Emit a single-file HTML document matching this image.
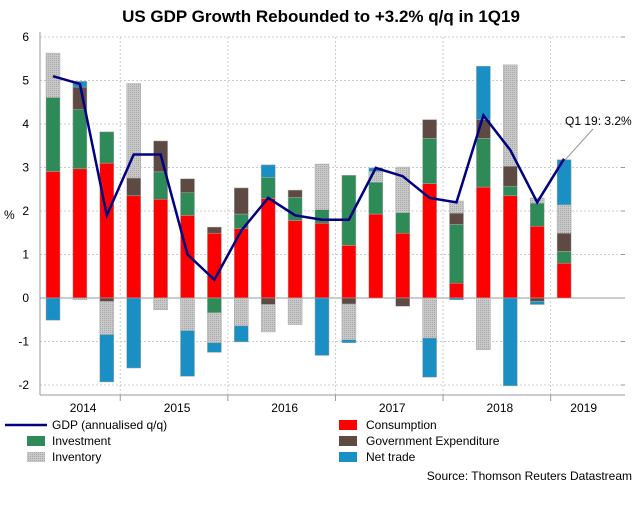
<!DOCTYPE html>
<html><head><meta charset="utf-8">
<style>
body{margin:0;background:#fff;font-family:"Liberation Sans",sans-serif;}
svg text{font-family:"Liberation Sans",sans-serif;}
</style></head>
<body>
<svg id="chart" width="642" height="509" viewBox="0 0 642 509" xmlns="http://www.w3.org/2000/svg">
<defs>
<pattern id="dots" width="2" height="2" patternUnits="userSpaceOnUse"><rect width="2" height="2" fill="#c8c8c8"/><rect width="1" height="1" fill="#a8a8a8"/></pattern>
</defs>
<text x="321" y="22" text-anchor="middle" font-size="17" font-weight="bold">US GDP Growth Rebounded to +3.2% q/q in 1Q19</text>
<g id="grid"></g>
<g id="bars"></g>
<g id="line"></g>
<g id="axes"></g>
<text x="565" y="125" font-size="12">Q1 19: 3.2%</text>
<line x1="593" y1="129" x2="565" y2="160" stroke="#999" stroke-width="1"/>
<text x="4" y="219" font-size="12">%</text>
<g font-size="12">
<line x1="5" y1="425" x2="47" y2="425" stroke="#000080" stroke-width="2.5"/>
<text x="52" y="429">GDP (annualised q/q)</text>
<rect x="27" y="436" width="18" height="10" fill="#2e8b57"/>
<text x="52" y="445">Investment</text>
<rect x="27" y="452" width="18" height="10" fill="url(#dots)"/>
<text x="52" y="461">Inventory</text>
<rect x="339" y="420" width="18" height="10" fill="#ff0000"/>
<text x="366" y="429">Consumption</text>
<rect x="339" y="436" width="18" height="10" fill="#5e4a43"/>
<text x="366" y="445">Government Expenditure</text>
<rect x="339" y="452" width="18" height="10" fill="#1a8fc4"/>
<text x="366" y="461">Net trade</text>
</g>
<text x="632" y="480" text-anchor="end" font-size="12">Source: Thomson Reuters Datastream</text>
</svg>
<script>
const quarters=["Q2 14","Q3 14","Q4 14","Q1 15","Q2 15","Q3 15","Q4 15","Q1 16","Q2 16","Q3 16","Q4 16","Q1 17","Q2 17","Q3 17","Q4 17","Q1 18","Q2 18","Q3 18","Q4 18","Q1 19"];
const consumption=[2.91,2.97,3.10,2.35,2.27,1.90,1.49,1.60,2.29,1.78,1.72,1.21,1.93,1.49,2.63,0.34,2.55,2.35,1.65,0.80];
const investment=[1.70,1.36,0.72,0,0.63,0.52,-0.34,0.33,0.48,0.53,0.31,1.61,0.73,0.47,1.04,1.35,1.12,0.22,0.53,0.27];
const government=[0,0.52,-0.08,0.41,0.71,0.32,0.14,0.60,-0.15,0.17,0,-0.14,0,-0.19,0.43,0.26,0.43,0.46,-0.08,0.42];
const inventory=[1.02,-0.04,-0.76,2.17,-0.27,-0.75,-0.69,-0.64,-0.63,-0.61,1.05,-0.82,0.25,1.05,-0.92,0.28,-1.19,2.33,0.12,0.65];
const netTrade=[-0.51,0.13,-1.09,-1.61,0,-1.05,-0.22,-0.37,0.29,0,-1.32,-0.07,0.08,0,-0.9,-0.04,1.23,-2.02,-0.07,1.04];
const gdp=[5.1,4.92,1.9,3.3,3.3,1.0,0.42,1.55,2.3,1.9,1.8,1.8,2.99,2.8,2.3,2.2,4.2,3.4,2.2,3.2];
const yTicks=[-2,-1,0,1,2,3,4,5,6];
const years=["2014","2015","2016","2017","2018","2019"];

const NS="http://www.w3.org/2000/svg";
const X0=53,STEP=26.9,BW=14,ZERO=298,UNIT=43.5,LEFT=40,RIGHT=625,BOTTOM=395;
const xs=i=>X0+i*STEP;
const ys=v=>ZERO-v*UNIT;
function mk(tag,attrs,parent){const e=document.createElementNS(NS,tag);for(const k in attrs)e.setAttribute(k,attrs[k]);parent.appendChild(e);return e;}
const grid=document.getElementById('grid'),bars=document.getElementById('bars'),line=document.getElementById('line'),axes=document.getElementById('axes');

yTicks.forEach(t=>{
  const g=mk('line',{x1:LEFT,x2:RIGHT,y1:ys(t),y2:ys(t),stroke:t===0?'#999':'#ccc','stroke-dasharray':t===0?'':'2,2'},grid);
  
  
  const lb=mk('text',{x:29,y:ys(t)+4,'text-anchor':'end','font-size':12},axes);
  lb.textContent=t;
  
  
  mk('line',{x1:RIGHT-4,x2:RIGHT,y1:ys(t),y2:ys(t),stroke:'#999'},axes);
});
years.forEach((y,k)=>{
  const start=k===0?LEFT:xs(4*k-2)+STEP/2;
  const end=k===years.length-1?start+60:xs(4*k+2)+STEP/2;
  if(k>0){const v=mk('line',{x1:start,x2:start,y1:ys(6),y2:BOTTOM,stroke:'#ccc','stroke-dasharray':'2,2'},grid);
    
    
    mk('line',{x1:start,x2:start,y1:BOTTOM,y2:BOTTOM+6,stroke:'#999'},axes);}
  const t=mk('text',{x:(start+end)/2+3,y:412,'text-anchor':'middle','font-size':12},axes);
  t.textContent=y;
  
  
});
const ax=mk('line',{x1:LEFT,x2:LEFT,y1:ys(6)-5,y2:BOTTOM,stroke:'#999'},axes);


const bx=mk('line',{x1:LEFT,x2:RIGHT,y1:BOTTOM,y2:BOTTOM,stroke:'#999'},axes);



const series=[['consumption',consumption,'#ff0000'],['investment',investment,'#2e8b57'],['government',government,'#5e4a43'],['inventory',inventory,'url(#dots)'],['net-trade',netTrade,'#1a8fc4']];
quarters.forEach((q,i)=>{
  let pos=0,neg=0;
  series.forEach(([n,arr,col])=>{
    const v=arr[i];if(!v)return;
    let a,b;
    if(v>0){a=pos;b=pos+v;pos=b;}else{a=neg;b=neg+v;neg=b;}
    const r=mk('rect',{x:xs(i)-BW/2,width:BW,y:ys(Math.max(a,b)),height:Math.abs(v)*UNIT,fill:col,stroke:'#aaa','stroke-width':0.5},bars);
    
    
  });
});
const pts=gdp.map((v,i)=>xs(i)+','+ys(v)).join(' ');
const pl=mk('polyline',{points:pts,fill:'none',stroke:'#000080','stroke-width':2.5,'stroke-linejoin':'miter'},line);


</script>
</body></html>
